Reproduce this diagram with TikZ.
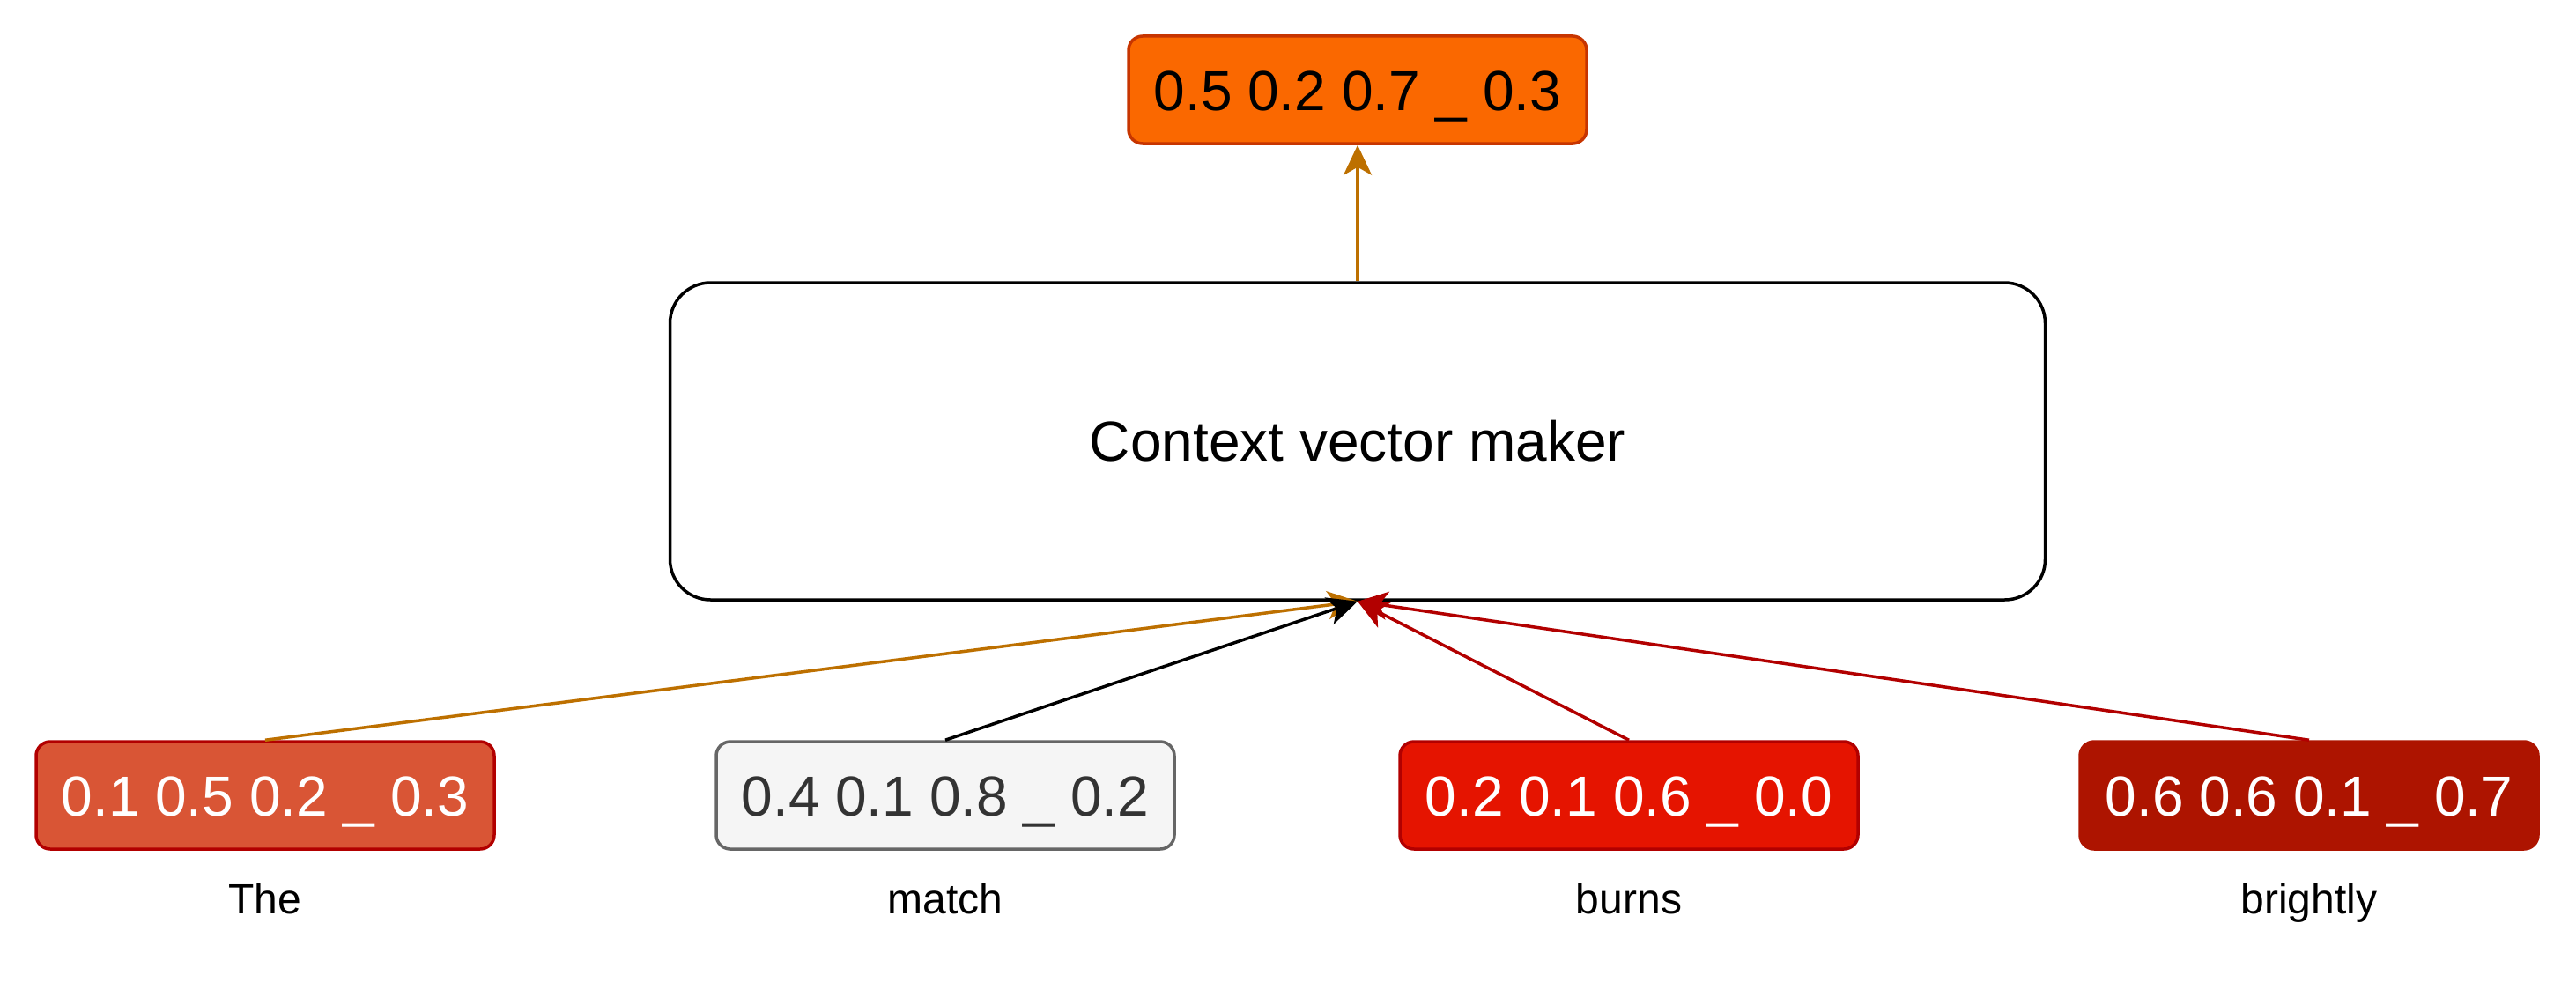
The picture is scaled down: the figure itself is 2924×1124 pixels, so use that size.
\documentclass[tikz,border=0pt]{standalone}
\usepackage{fontspec}
\setmainfont{Liberation Sans}
\usetikzlibrary{arrows.meta}
\definecolor{orfill}{HTML}{FA6800}
\definecolor{orline}{HTML}{C73500}
\definecolor{thefill}{HTML}{D95535}
\definecolor{redline}{HTML}{B20000}
\definecolor{grfill}{HTML}{F5F5F5}
\definecolor{grline}{HTML}{666666}
\definecolor{grtext}{HTML}{333333}
\definecolor{burnfill}{HTML}{E51400}
\definecolor{brightfill}{HTML}{AD1400}
\definecolor{arrowor}{HTML}{BD7000}
\tikzset{
  vec/.style={draw, rounded corners=16pt, line width=3.5pt, minimum width=520pt, minimum height=122pt,
    inner sep=0pt, font=\fontsize{64}{77}\selectfont, text height=46pt, text depth=0pt},
  lbl/.style={font=\fontsize{48}{58}\selectfont, inner sep=0pt, anchor=base},
  conn/.style={line width=3.5pt, -{Stealth[length=34pt, width=32pt, inset=9pt]}},
}
\begin{document}
\begin{tikzpicture}[x=1pt,y=-1pt]
\useasboundingbox (0,0) rectangle (2924,1124);
\fill[white] (0,0) rectangle (2924,1124);
\node[vec, fill=orfill, draw=orline, text=black] (out) at (1541,102) {0.5 0.2 0.7 \_ 0.3};
\node[draw, rounded corners=46pt, line width=3.5pt, minimum width=1561pt, minimum height=360pt,
  font=\fontsize{64}{77}\selectfont] (ctx) at (1541,501) {Context vector maker};
\node[vec, fill=thefill, draw=redline, text=white] (v1) at (301,903) {0.1 0.5 0.2 \_ 0.3};
\node[vec, fill=grfill, draw=grline, text=grtext] (v2) at (1073,903) {0.4 0.1 0.8 \_ 0.2};
\node[vec, fill=burnfill, draw=redline, text=white] (v3) at (1849,903) {0.2 0.1 0.6 \_ 0.0};
\node[vec, fill=brightfill, draw=brightfill, text=white] (v4) at (2621,903) {0.6 0.6 0.1 \_ 0.7};
\node[lbl] (l1) at (301,1037) {The};
\node[lbl] (l2) at (1073,1037) {match};
\node[lbl] (l3) at (1849,1037) {burns};
\node[lbl] (l4) at (2621,1037) {brightly};
\draw[conn, arrowor] (ctx.north) -- (out.south);
\draw[conn, arrowor] (v1.north) -- (ctx.south);
\draw[conn, black] (v2.north) -- (ctx.south);
\draw[conn, redline] (v4.north) -- (ctx.south);
\draw[conn, redline] (v3.north) -- (ctx.south);
\end{tikzpicture}
\end{document}
